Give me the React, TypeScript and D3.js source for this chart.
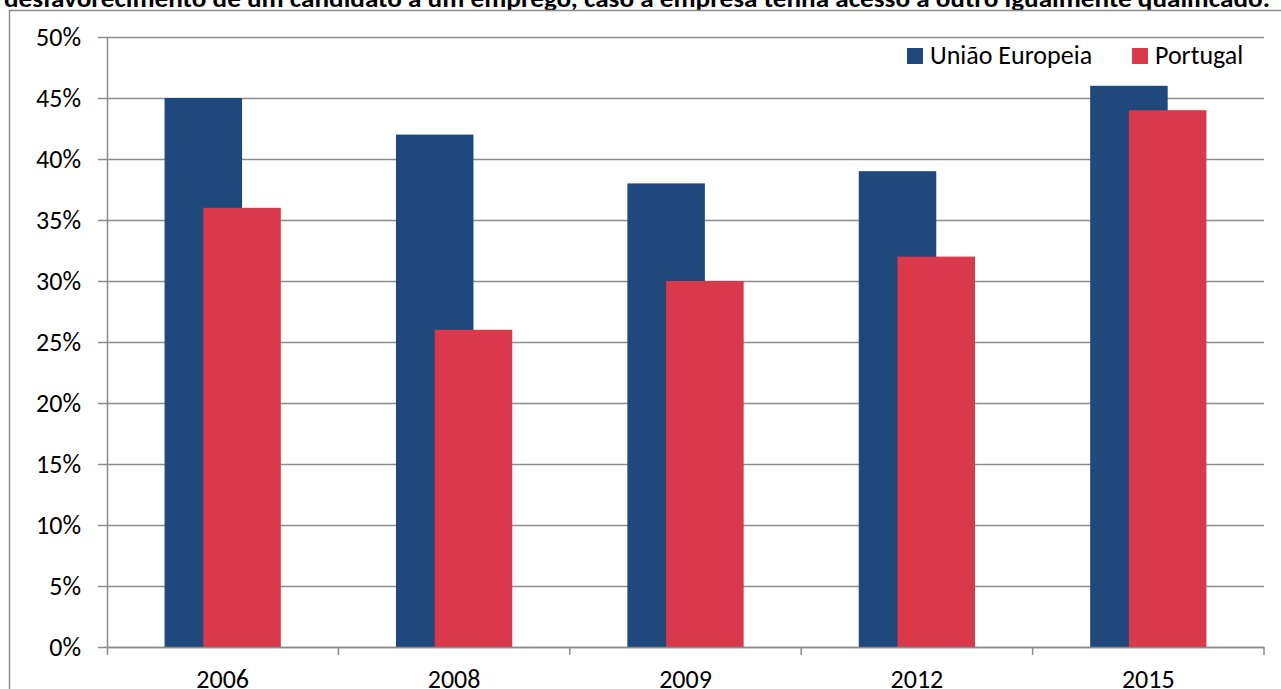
import React from "react";
import * as d3 from "d3";

const categories = ["2006", "2008", "2009", "2012", "2015"];
const euValues = [45, 42, 38, 39, 46];
const ptValues = [36, 26, 30, 32, 44];
const yTicks = [0, 5, 10, 15, 20, 25, 30, 35, 40, 45, 50];
const seriesNames = ["União Europeia", "Portugal"];
const title =
  "desfavorecimento de um candidato a um emprego, caso a empresa tenha acesso a outro igualmente qualificado.";

const W = 1281;
const H = 689;
const left = 107;
const right = 1264;
const top = 37;
const bottom = 647;
const EU = "#1F497D";
const PT = "#D9394A";
const GRID = "#8c8c8c";
const FONT = "Carlito, Calibri, 'Open Sans', 'Liberation Sans', sans-serif";

export default function App() {
  const x = d3.scaleBand<string>().domain(categories).range([left, right]);
  const y = d3.scaleLinear().domain([0, 50]).range([bottom, top]);
  const bw = x.bandwidth();
  const barW = bw * 0.335;
  const groupW = barW * 1.5;
  const pad = (bw - groupW) / 2;

  return (
    <svg
      width={W}
      height={H}
      style={{ position: "absolute", left: 0, top: 0, background: "#fff" }}
      fontFamily={FONT}
    >
      <rect x={0} y={0} width={W} height={H} fill="#fff" />
      <text
        x={4}
        y={7}
        fontSize={24}
        fontWeight="bold"
        textLength={1266}
        lengthAdjust="spacingAndGlyphs"
        fill="#000"
      >
        {title}
      </text>
      {/* frame */}
      <line x1={9} x2={W + 5} y1={10.5} y2={10.5} stroke={GRID} strokeWidth={1.5} />
      <line x1={9.5} x2={9.5} y1={10} y2={H + 5} stroke={GRID} strokeWidth={1.5} />

      {/* gridlines */}
      {yTicks.map((t) => (
        <g key={t}>
          <line
            x1={98}
            x2={right}
            y1={Math.round(y(t)) + 0.5}
            y2={Math.round(y(t)) + 0.5}
            stroke={GRID}
            strokeWidth={1.5}
          />
          <text
            x={81}
            y={y(t)}
            dy="0.35em"
            textAnchor="end"
            fontSize={26}
            fill="#000"
          >
            {t}%
          </text>
        </g>
      ))}
      {/* y axis */}
      <line x1={left + 0.5} x2={left + 0.5} y1={top} y2={bottom + 8} stroke={GRID} strokeWidth={1.5} />

      {/* bars */}
      {categories.map((c, i) => {
        const x0 = (x(c) as number) + pad;
        return (
          <g key={c}>
            <rect
              x={x0}
              y={y(euValues[i])}
              width={barW}
              height={y(0) - y(euValues[i])}
              fill={EU}
            />
            <rect
              x={x0 + barW / 2}
              y={y(ptValues[i])}
              width={barW}
              height={y(0) - y(ptValues[i])}
              fill={PT}
            />
          </g>
        );
      })}

      {/* x axis */}
      <line x1={left} x2={right} y1={bottom + 0.5} y2={bottom + 0.5} stroke={GRID} strokeWidth={1.5} />
      {categories.map((c) => (
        <line
          key={"t" + c}
          x1={(x(c) as number) + bw}
          x2={(x(c) as number) + bw}
          y1={bottom}
          y2={bottom + 8}
          stroke={GRID}
          strokeWidth={1.5}
        />
      ))}
      {categories.map((c) => (
        <text
          key={"l" + c}
          x={(x(c) as number) + bw / 2}
          y={688}
          textAnchor="middle"
          fontSize={26}
          fill="#000"
        >
          {c}
        </text>
      ))}

      {/* legend */}
      <rect x={907} y={48} width={16} height={16} fill={EU} />
      <text x={930} y={64} fontSize={26} fill="#000">
        {seriesNames[0]}
      </text>
      <rect x={1132} y={48} width={16} height={16} fill={PT} />
      <text x={1155} y={64} fontSize={26} fill="#000">
        {seriesNames[1]}
      </text>
    </svg>
  );
}
